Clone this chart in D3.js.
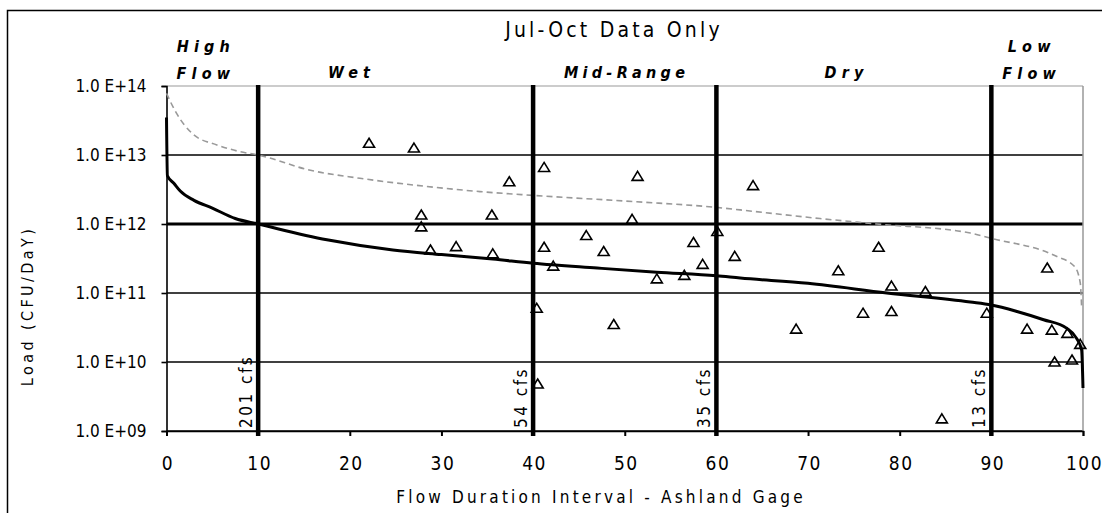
<!DOCTYPE html>
<html>
<head>
<meta charset="utf-8">
<script src="https://cdn.jsdelivr.net/npm/d3@7"></script>
<style>
    body { margin: 0; background: #fff; }
    svg { display: block; }
</style>
</head>
<body>
<script>

// ================================================================================================
// Data

// Load duration curve (flow duration %, load CFU/day)
var curve_pct  = [0, 0.1, 0.8, 1.5, 3, 5, 7.5, 10, 17.5, 24.7, 30, 35.6, 40, 47, 53.5, 60, 62.6,
                  70, 78.6, 87.7, 90, 92.8, 95.7, 98.2, 99.3, 99.85, 100];
var curve_load = [3.5e13, 5.0e12, 3.9e12, 3.0e12, 2.2e12, 1.7e12, 1.2e12, 1.0e12, 5.9e11, 4.2e11,
                  3.6e11, 3.1e11, 2.7e11, 2.3e11, 2.0e11, 1.78e11, 1.65e11, 1.38e11, 1.0e11,
                  7.4e10, 6.7e10, 5.4e10, 4.1e10, 3.1e10, 2.2e10, 1.5e10, 4.2e9];

// Dashed curve (flow duration %, load CFU/day)
var dashed_pct  = [0, 1.1, 2.9, 5.5, 8, 10, 15.7, 21.1, 28.4, 34.2, 40, 51.3, 60, 62.6, 71.3,
                   77.5, 87.7, 90, 97.1, 99.1, 99.7, 99.85];
var dashed_load = [7.8e13, 4.0e13, 2.0e13, 1.4e13, 1.12e13, 1.0e13, 6.0e12, 4.6e12, 3.5e12,
                   2.95e12, 2.6e12, 2.1e12, 1.74e12, 1.6e12, 1.2e12, 1.0e12, 7.4e11, 6.2e11,
                   3.4e11, 2.4e11, 1.4e11, 6.3e10];

// Observed loads (triangles)
var obs_pct  = [22.1, 27.0, 37.4, 27.8, 27.8, 35.5, 28.8, 31.6, 35.6, 41.2, 51.4, 50.8, 45.8,
                47.7, 41.2, 42.2, 57.5, 58.5, 53.5, 56.5, 60.1, 62.0, 40.4, 48.8, 40.5, 64.0,
                77.7, 73.3, 79.1, 82.8, 76.0, 79.1, 68.7, 84.6, 96.1, 89.5, 93.9, 96.6, 98.3,
                99.7, 96.9, 98.8];
var obs_load = [1.48e13, 1.26e13, 4.1e12, 1.35e12, 9.1e11, 1.35e12, 4.2e11, 4.7e11, 3.7e11,
                6.6e12, 4.9e12, 1.17e12, 6.8e11, 4.0e11, 4.6e11, 2.45e11, 5.4e11, 2.6e11,
                1.6e11, 1.8e11, 7.8e11, 3.4e11, 6.0e10, 3.5e10, 4.8e9, 3.6e12, 4.6e11,
                2.1e11, 1.26e11, 1.05e11, 5.1e10, 5.4e10, 3.0e10, 1.5e9, 2.3e11, 5.1e10,
                3.0e10, 2.9e10, 2.6e10, 1.8e10, 1.0e10, 1.07e10];

// Flow zone boundaries and their flows
var zone_cuts = [10, 40, 60, 90];
var cut_labels = ['201 cfs', '54 cfs', '35 cfs', '13 cfs'];

// Flow zone names
var zone_names = [['High', 'Flow'], ['Wet'], ['Mid-Range'], ['Dry'], ['Low', 'Flow']];

// Axis ticks
var x_ticks = [0, 10, 20, 30, 40, 50, 60, 70, 80, 90, 100];
var y_ticks = [1e9, 1e10, 1e11, 1e12, 1e13, 1e14];

var title = 'Jul-Oct Data Only';
var x_title = 'Flow Duration Interval - Ashland Gage';
var y_title = 'Load (CFU/DaY)';

// ================================================================================================
// Chart

var W = 1102, H = 513;
var FONT = "'Liberation Sans Narrow', 'Arial Narrow', 'DejaVu Sans Condensed', sans-serif";

var svg = d3.select('body').append('svg')
    .attr('width', W)
    .attr('height', H);

// Outer frame
svg.append('rect')
    .attr('x', 7.5).attr('y', 10.5)
    .attr('width', W + 10).attr('height', H + 20)
    .attr('fill', 'none')
    .attr('stroke', '#000')
    .attr('stroke-width', 1.5);

var x = d3.scaleLinear().domain([0, 100]).range([166.5, 1083]);
var y = d3.scaleLog().domain([1e9, 1e14]).range([431, 86]);

// Sets font on a selection
function font(sel, size, spacing) {
    return sel.attr('font-family', FONT)
        .attr('font-size', size)
        .attr('letter-spacing', spacing)
        .attr('fill', '#000');
}

// Horizontal grid lines
var grid = svg.append('g');
grid.selectAll('line')
    .data(y_ticks)
    .enter()
    .append('line')
    .attr('x1', x(0)).attr('x2', x(100))
    .attr('y1', function (d) { return y(d); })
    .attr('y2', function (d) { return y(d); })
    .attr('stroke', function (d) { return d === 1e14 ? '#999' : '#000'; })
    .attr('stroke-width', function (d) { return d === 1e12 ? 3 : (d === 1e14 ? 1.2 : 1.6); });

// Right border of the plot
svg.append('line')
    .attr('x1', x(100)).attr('x2', x(100))
    .attr('y1', y(1e14)).attr('y2', y(1e9))
    .attr('stroke', '#999')
    .attr('stroke-width', 1.5);

// Y axis
var y_axis = svg.append('g')
    .attr('transform', 'translate(' + x(0) + ',0)')
    .call(d3.axisLeft(y)
        .tickValues(y_ticks)
        .tickSize(5)
        .tickPadding(15)
        .tickFormat(function (d) {
            var e = Math.round(Math.log10(d));
            return '1.0 E+' + (e < 10 ? '0' + e : e);
        }));
y_axis.select('.domain').attr('stroke-width', 1.6);
y_axis.selectAll('line').attr('stroke-width', 1.6);
font(y_axis.selectAll('text'), 17, 0);

// X axis
var x_axis = svg.append('g')
    .attr('transform', 'translate(0,' + y(1e9) + ')')
    .call(d3.axisBottom(x)
        .tickValues(x_ticks)
        .tickSize(5)
        .tickPadding(21)
        .tickFormat(d3.format('d')));
x_axis.select('.domain').attr('stroke-width', 1.6);
x_axis.selectAll('line').attr('stroke-width', 2);
font(x_axis.selectAll('text'), 19, 1.5).attr('dx', 1);

var line = d3.line()
    .curve(d3.curveMonotoneX)
    .x(function (d) { return x(d[0]); })
    .y(function (d) { return y(d[1]); });

// Dashed curve
var dashed = d3.range(dashed_pct.length).map(function (i) {
    return [dashed_pct[i], dashed_load[i]];
});
svg.append('path')
    .datum(dashed)
    .attr('fill', 'none')
    .attr('stroke', '#999')
    .attr('stroke-width', 1.6)
    .attr('stroke-dasharray', '6,4')
    .attr('d', line);

// Observed loads
var obs = d3.range(obs_pct.length).map(function (i) {
    return [obs_pct[i], obs_load[i]];
});
svg.append('g').selectAll('path')
    .data(obs)
    .enter()
    .append('path')
    .attr('transform', function (d) {
        return 'translate(' + x(d[0]) + ',' + y(d[1]) + ')';
    })
    .attr('d', 'M0,-5L5.5,4L-5.5,4Z')
    .attr('fill', 'none')
    .attr('stroke', '#000')
    .attr('stroke-width', 1.6);

// Load duration curve
var curve = d3.range(curve_pct.length).map(function (i) {
    return [curve_pct[i], curve_load[i]];
});
svg.append('path')
    .datum(curve)
    .attr('fill', 'none')
    .attr('stroke', '#000')
    .attr('stroke-width', 3)
    .attr('stroke-linejoin', 'round')
    .attr('d', line);

// Zone boundaries
svg.append('g').selectAll('line')
    .data(zone_cuts)
    .enter()
    .append('line')
    .attr('x1', function (d) { return x(d); })
    .attr('x2', function (d) { return x(d); })
    .attr('y1', y(1e14) - 1)
    .attr('y2', y(1e9) + 5)
    .attr('stroke', '#000')
    .attr('stroke-width', 4.5);

// Flow at each boundary
font(svg.append('g').selectAll('text')
    .data(zone_cuts)
    .enter()
    .append('text'), 17, 2.5)
    .attr('transform', function (d) {
        return 'translate(' + (x(d) - 6) + ',428) rotate(-90)';
    })
    .text(function (d, i) { return cut_labels[i]; });

// Zone names
var zone_label_x = [4.3, 20.2, 50.2, 74.2, 94.4];
zone_names.forEach(function (lines, i) {
    var t = font(svg.append('text'), 16, lines[0].length > 5 ? 4.3 : 5.2)
        .attr('font-style', 'italic')
        .attr('font-weight', 'bold')
        .attr('text-anchor', 'middle')
        .attr('x', x(zone_label_x[i]))
        .attr('y', lines.length > 1 ? 52 : 78);
    lines.forEach(function (s, j) {
        t.append('tspan')
            .attr('x', x(zone_label_x[i]))
            .attr('dy', j ? 27 : 0)
            .text(s);
    });
});

// Titles
font(svg.append('text'), 21, 3.2)
    .attr('text-anchor', 'middle')
    .attr('x', 614).attr('y', 37)
    .text(title);

font(svg.append('text'), 17, 3.2)
    .attr('text-anchor', 'middle')
    .attr('x', 601).attr('y', 503)
    .text(x_title);

font(svg.append('text'), 16, 3.4)
    .attr('text-anchor', 'middle')
    .attr('transform', 'translate(33,306) rotate(-90)')
    .text(y_title);

</script>
</body>
</html>
